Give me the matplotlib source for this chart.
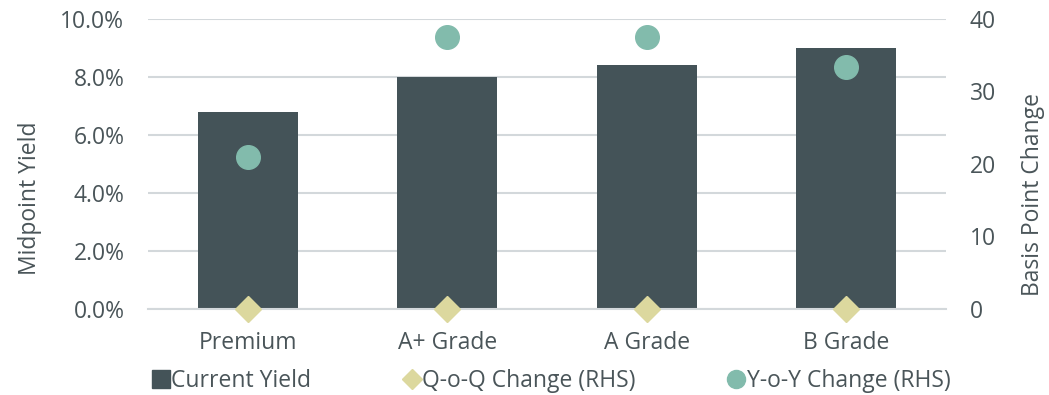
import matplotlib
matplotlib.use("Agg")
import matplotlib.pyplot as plt
from matplotlib.lines import Line2D
import numpy as np

categories = ["Premium", "A+ Grade", "A Grade", "B Grade"]
current_yield = [6.8, 8.0, 8.4, 9.0]          # %
qoq_change = [0, 0, 0, 0]                     # bps (RHS)
yoy_change = [21.0, 37.5, 37.5, 33.4]         # bps (RHS)

BAR = "#445358"
TEAL = "#82BBAC"
SAND = "#DCD89E"
GRID = "#D3D8DB"
TXT = "#4A5559"
FS_TICK = 16.5
FS_CAT = 16.5
FS_LAB = 16.5

plt.rcParams['font.family'] = ['Open Sans', 'DejaVu Sans']

W, H = 1049, 395
fig = plt.figure(figsize=(W/100, H/100), dpi=100)
ax = fig.add_axes([148/W, 1 - 309/H, (946-148)/W, (309-19)/H])
ax2 = ax.twinx()

x = np.arange(len(categories))
ax.bar(x, current_yield, width=0.5, color=BAR, zorder=2)
ax.set_xlim(-0.5, len(categories) - 0.5)
ax.set_ylim(0, 10)
ax.set_yticks(np.arange(0, 10.1, 2))
ax.set_yticklabels([f"{v:.1f}%" for v in np.arange(0, 10.1, 2)])
ax.yaxis.grid(True, color=GRID, linewidth=1.5, zorder=0)
ax.set_axisbelow(True)
ax.set_xticks(x)
ax.set_xticklabels(categories)

ax2.set_ylim(0, 40)
ax2.set_yticks([0, 10, 20, 30, 40])
ax2.plot(x, yoy_change, linestyle="none", marker="o", markersize=17,
         color=TEAL, clip_on=False, zorder=3)
ax2.plot(x, qoq_change, linestyle="none", marker="D", markersize=13,
         color=SAND, clip_on=False, zorder=3)

for a in (ax, ax2):
    for s in a.spines.values():
        s.set_visible(False)
    a.tick_params(length=0, labelsize=FS_TICK, colors=TXT)
ax.tick_params(axis="y", pad=17)
ax.tick_params(axis="x", pad=16, labelsize=FS_CAT)
ax2.tick_params(axis="y", pad=17)
ax.spines["bottom"].set_visible(True)
ax.spines["bottom"].set_color(GRID)
ax.spines["bottom"].set_linewidth(1.5)

fig.text(30/W, 1 - 198/H, "Midpoint Yield", rotation=90, ha="center", va="center",
         fontsize=FS_LAB, color=TXT)
fig.text(1033/W, 1 - 195/H, "Basis Point Change", rotation=90, ha="center", va="center",
         fontsize=FS_LAB, color=TXT)

handles = [
    Line2D([], [], linestyle="none", marker="s", markersize=13, color=BAR),
    Line2D([], [], linestyle="none", marker="D", markersize=10, color=SAND),
    Line2D([], [], linestyle="none", marker="o", markersize=13, color=TEAL),
]
labels = ["Current Yield", "Q-o-Q Change (RHS)", "Y-o-Y Change (RHS)"]
leg = fig.legend(handles, labels, loc="center", bbox_to_anchor=(552/W, 1 - 381/H),
                 ncol=3, frameon=False, fontsize=FS_LAB, handlelength=0.6,
                 handletextpad=0.15, columnspacing=4.1, labelcolor=TXT,
                 borderpad=0, borderaxespad=0)

fig.savefig("out.png", dpi=100)
